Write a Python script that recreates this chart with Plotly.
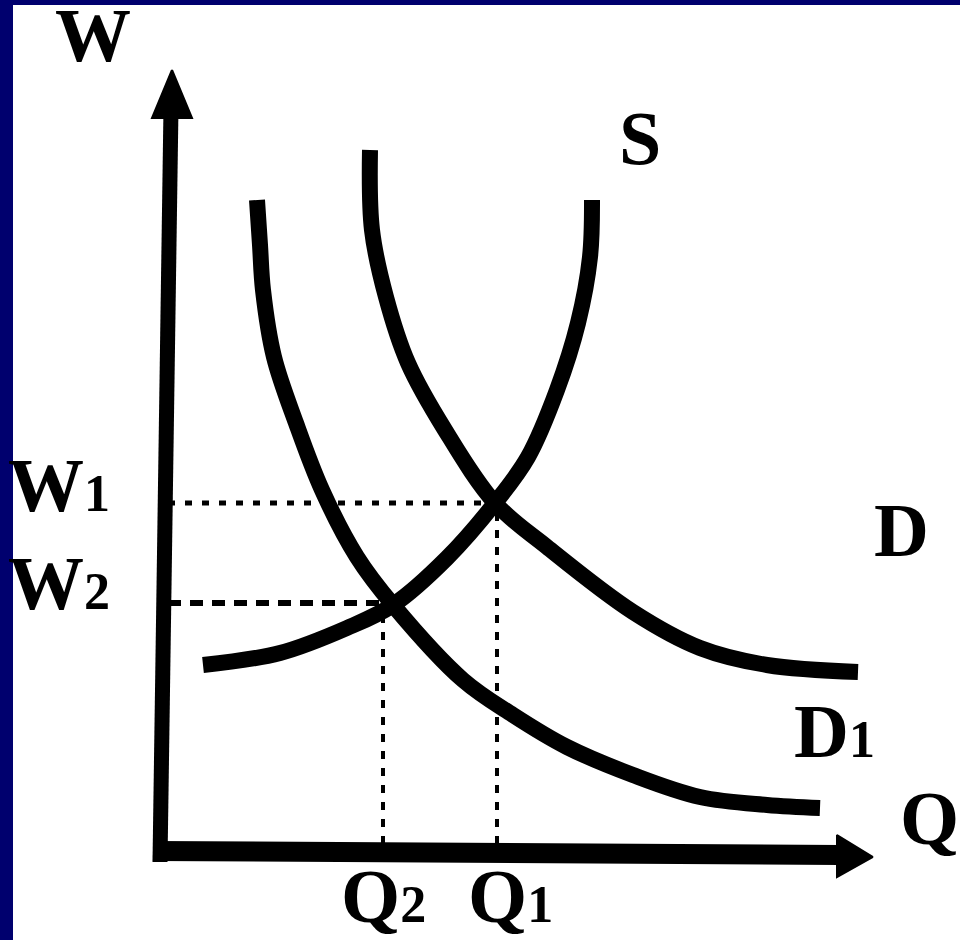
import plotly.graph_objects as go

# Labour market diagram: supply S, demand D shifting down to D1.
# Units are pixels right of / above the axis origin of the original drawing.

# supply curve S (Q, W)
s_q = [43, 120, 187, 233, 287, 335, 368, 397, 418, 430, 432]
s_w = [187, 199, 224, 247, 294, 349, 395, 462, 529, 595, 652]

# original demand curve D
d_q = [210, 212, 226, 248, 285, 335, 387, 473, 540, 607, 698]
d_w = [702, 622, 555, 489, 422, 349, 305, 240, 204, 187, 180]

# demand after the shift, D1
d1_q = [97, 100, 103, 114, 136, 162, 197, 233, 303, 353, 407, 473, 540, 607, 660]
d1_w = [652, 607, 562, 495, 429, 362, 295, 247, 172, 137, 105, 77, 55, 47, 44]

# equilibrium levels marked on the axes
w_levels = [349, 249]      # W1, W2
q_levels = [337, 223]      # Q1, Q2

SUB = "<span style='font-size:52px'>%s</span>"
w_labels = ["W" + SUB % "1", "W" + SUB % "2"]
q_labels = ["Q" + SUB % "1", "Q" + SUB % "2"]

NAVY = "#00006e"
INK = "black"
FONT = "Liberation Serif, Times New Roman, serif"

fig = go.Figure()

# axes with arrow heads
fig.add_trace(go.Scatter(x=[0, 11], y=[-10, 745], mode="lines",
                         line=dict(color=INK, width=15)))
fig.add_trace(go.Scatter(x=[12, -8, 32, 12], y=[782, 734, 734, 782], mode="lines",
                         fill="toself", fillcolor=INK, line=dict(color=INK, width=2)))
fig.add_trace(go.Scatter(x=[-7, 680], y=[1, -3], mode="lines",
                         line=dict(color=INK, width=20)))
fig.add_trace(go.Scatter(x=[713, 677, 677, 713], y=[-5, 17, -25, -5], mode="lines",
                         fill="toself", fillcolor=INK, line=dict(color=INK, width=2)))

# guide lines to the axes
fig.add_trace(go.Scatter(x=[8, q_levels[0]], y=[w_levels[0]] * 2, mode="lines",
                         line=dict(color=INK, width=5, dash="7px,10px")))
fig.add_trace(go.Scatter(x=[8, q_levels[1]], y=[w_levels[1]] * 2, mode="lines",
                         line=dict(color=INK, width=6, dash="13px,9px")))
fig.add_trace(go.Scatter(x=[q_levels[0]] * 2, y=[8, w_levels[0]], mode="lines",
                         line=dict(color=INK, width=4, dash="8px,9px")))
fig.add_trace(go.Scatter(x=[q_levels[1]] * 2, y=[8, w_levels[1]], mode="lines",
                         line=dict(color=INK, width=4, dash="8px,9px")))

# the curves
for q, w in [(s_q, s_w), (d_q, d_w), (d1_q, d1_w)]:
    fig.add_trace(go.Scatter(x=q, y=w, mode="lines",
                             line=dict(color=INK, width=16, shape="spline", smoothing=1.0)))

# text labels
labels = [
    ("W", -67, 817),
    ("S", 480, 714),
    (w_labels[0], -101, 367),
    (w_labels[1], -101, 269),
    ("D", 741, 322),
    ("D" + SUB % "1", 674, 121),
    ("Q", 769, 34),
    (q_labels[1], 223, -44),
    (q_labels[0], 350, -44),
]
for text, x, y in labels:
    fig.add_annotation(x=x, y=y, text=text, showarrow=False,
                       xanchor="center", yanchor="middle",
                       font=dict(family=FONT, size=76, color=INK, weight="bold"))

fig.update_layout(
    width=960, height=940,
    margin=dict(l=13, r=0, t=5, b=0),
    paper_bgcolor=NAVY,
    plot_bgcolor="white",
    showlegend=False,
    xaxis=dict(range=[-147, 800], visible=False, fixedrange=True),
    yaxis=dict(range=[-88, 847], visible=False, fixedrange=True),
)

fig.write_html("out.html", config=dict(displayModeBar=False),
               post_script="document.body.style.margin='0';"
                           "document.body.style.overflow='hidden';")
